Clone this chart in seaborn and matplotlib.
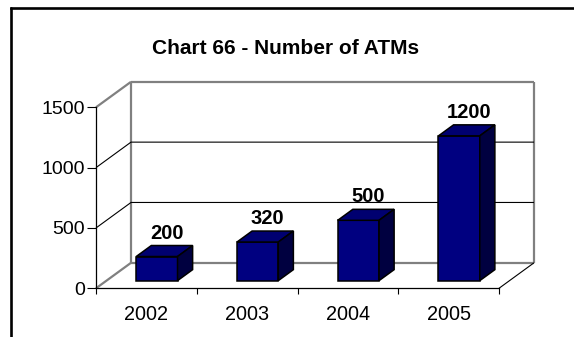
import matplotlib
matplotlib.use("Agg")
import matplotlib.pyplot as plt
import numpy as np
import pandas as pd
import seaborn as sns
from matplotlib.lines import Line2D
from matplotlib.patches import Polygon

# ---- data -------------------------------------------------------------
years = ["2002", "2003", "2004", "2005"]
atms = [200, 320, 500, 1200]
y_ticks = [0, 500, 1000, 1500]
title = "Chart 66 - Number of ATMs"

# ---- style ------------------------------------------------------------
sns.set_theme(style="white")
plt.rcParams["font.family"] = ["Liberation Sans", "DejaVu Sans"]

FRONT = "#000080"
TOP = "#000070"
SIDE = "#000040"
GRAY = "#808080"

W, H, DPI = 574, 337, 100
fig = plt.figure(figsize=(W / DPI, H / DPI), dpi=DPI)
fig.patch.set_facecolor("white")

# front plane of the plot box, in pixels from the top-left corner
left, right, top, bottom = 96, 499, 107.3, 288.3
ax = fig.add_axes([left / W, 1 - bottom / H, (right - left) / W, (bottom - top) / H])
ax.set_facecolor("none")

df = pd.DataFrame({"year": years, "atms": atms})
sns.barplot(data=df, x="year", y="atms", color=FRONT, saturation=1,
            width=0.41, edgecolor="black", linewidth=1.1, ax=ax, zorder=3)

ax.set_xlim(-0.5, 3.5)
ax.set_ylim(0, 1500)
ax.set_xlabel("")
ax.set_ylabel("")

# pixel -> data scale, used for the oblique depth direction
sx = (right - left) / 4.0
sy = (bottom - top) / 1500.0
DEPTH_PX = (35.0, 25.5)
DX, DY = DEPTH_PX[0] / sx, DEPTH_PX[1] / sy
T_FRONT = 0.30
T_BACK = 0.30 + 11.0 / 25.5

x0, x1 = -0.5, 3.5
line_kw = dict(clip_on=False, zorder=1, solid_capstyle="butt")

# back wall and floor outlines
gray_segments = [
    [(x0 + DX, DY), (x0 + DX, 1500 + DY)],
    [(x0 + DX, 1500 + DY), (x1 + DX, 1500 + DY)],
    [(x1 + DX, DY), (x1 + DX, 1500 + DY)],
    [(x0 + DX, DY), (x1 + DX, DY)],
    [(x0, 0), (x0 + DX, DY)],
    [(x0, 1500), (x0 + DX, 1500 + DY)],
]
for seg in gray_segments:
    xs, ys = zip(*seg)
    ax.plot(xs, ys, color=GRAY, lw=1.6, **line_kw)

# gridlines running along the side wall and the back wall
for v in y_ticks[1:-1]:
    ax.plot([x0, x0 + DX, x1 + DX], [v, v + DY, v + DY], color="black", lw=0.8, **line_kw)
ax.plot([x1, x1 + DX], [0, DY], color="black", lw=0.8, **line_kw)

# give each bar its depth: shift the front face, add top and side faces
for patch, val in zip(ax.patches, atms):
    bx, bw, bh = patch.get_x(), patch.get_width(), patch.get_height()
    fx, fy = T_FRONT * DX, T_FRONT * DY
    kx, ky = T_BACK * DX, T_BACK * DY
    patch.set_x(bx + fx)
    patch.set_y(fy)
    top_face = Polygon([(bx + fx, bh + fy), (bx + bw + fx, bh + fy),
                        (bx + bw + kx, bh + ky), (bx + kx, bh + ky)],
                       closed=True, facecolor=TOP, edgecolor="black", lw=1.1,
                       clip_on=False, zorder=3)
    side_face = Polygon([(bx + bw + fx, fy), (bx + bw + kx, ky),
                         (bx + bw + kx, bh + ky), (bx + bw + fx, bh + fy)],
                        closed=True, facecolor=SIDE, edgecolor="black", lw=1.1,
                        clip_on=False, zorder=3)
    ax.add_patch(top_face)
    ax.add_patch(side_face)
    ax.text(bx + fx + bw / 2 + 10 / sx, bh + fy + 18 / sy, str(val),
            ha="center", va="baseline", fontsize=14.5, fontweight="bold",
            color="black", zorder=4, clip_on=False)

# front axes
for side in ("top", "right"):
    ax.spines[side].set_visible(False)
for side in ("left", "bottom"):
    ax.spines[side].set_visible(True)
    ax.spines[side].set_color("black")
    ax.spines[side].set_linewidth(0.9)
    ax.spines[side].set_zorder(2)

ax.set_yticks(y_ticks)
ax.set_yticklabels([str(t) for t in y_ticks])
ax.tick_params(axis="y", left=True, length=6.5, width=0.8, color="black",
               pad=1.5, labelsize=14, labelcolor="black")
ax.set_xticks(range(len(years)))
ax.set_xticklabels(years)
ax.tick_params(axis="x", which="major", bottom=True, length=0, pad=12,
               labelsize=14.3, labelcolor="black")
ax.set_xticks(np.arange(-0.5, 4.0, 1.0), minor=True)
ax.tick_params(axis="x", which="minor", bottom=True, length=4.3, width=0.8,
               color="black")

# title
fig.text(286 / W, 1 - 54 / H, title, ha="center", va="baseline",
         fontsize=15, fontweight="bold", color="black")

# chart frame (runs off the right and bottom edges)
bx_, by_ = 11.3, 7.8
fig.add_artist(Line2D([bx_ / W, bx_ / W], [0, 1 - by_ / H], color="black",
                      lw=1.9, transform=fig.transFigure))
fig.add_artist(Line2D([bx_ / W, 1], [1 - by_ / H, 1 - by_ / H], color="black",
                      lw=1.9, transform=fig.transFigure, solid_capstyle="projecting"))

fig.savefig("out.png", dpi=DPI)
